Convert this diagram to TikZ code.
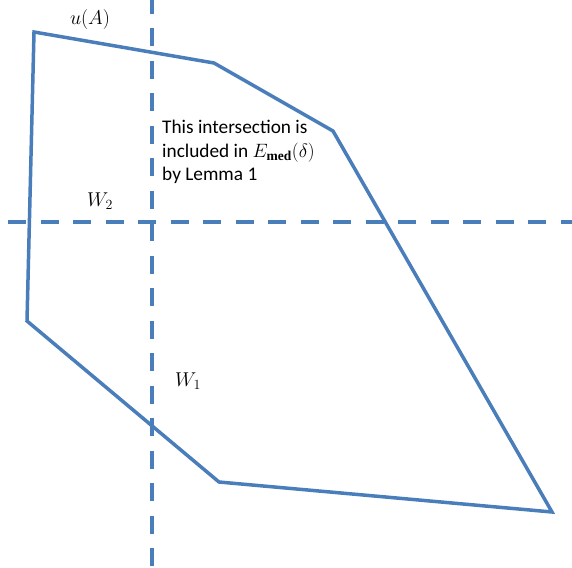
\documentclass[tikz,border=0pt]{standalone}
\usepackage{fix-cm}
\usepackage{amsmath}
\usepackage{fontspec}
\setmainfont{Carlito}
\newfontfamily\medfont{Liberation Serif}
\definecolor{lineblue}{HTML}{4A7EBB}
\begin{document}
\begin{tikzpicture}[x=1pt,y=-1pt,
  poly/.style={draw=lineblue,line width=3.5pt,line join=miter},
  axisline/.style={draw=lineblue,line width=4.2pt,dash pattern=on 18pt off 14.5pt},
  lbl/.style={inner sep=0pt,font=\fontsize{19.3}{23.3}\selectfont},
  mlbl/.style={inner sep=0pt,font=\fontsize{20}{23}\selectfont}]
\useasboundingbox (0,0) rectangle (572,567);
\coordinate (p1) at (34,32);
\coordinate (p2) at (214,63);
\coordinate (p3) at (333,131);
\coordinate (p4) at (552,512);
\coordinate (p5) at (219,482);
\coordinate (p6) at (27,321);
\draw[poly] (p1) -- (p2) -- (p3) -- (p4) -- (p5) -- (p6) -- cycle;
\coordinate (vtop) at (152,0);
\coordinate (vbot) at (152,567);
\coordinate (hl) at (8,222);
\coordinate (hr) at (572,222);
\draw[axisline,dash phase=4.3pt] (vtop) -- (vbot);
\draw[axisline] (hl) -- (hr);
\node[mlbl,anchor=base] (uA) at (90,25) {$u(A)$};
\node[mlbl,anchor=base] (W2) at (100,206) {$W_2$};
\node[mlbl,anchor=base] (W1) at (188,386) {$W_1$};
\node[lbl,anchor=base west,align=left] (note) at (162,180.5) {This intersection is\\included in $E_{\text{\medfont\bfseries med}}(\delta)$\\by Lemma 1};
\end{tikzpicture}
\end{document}
